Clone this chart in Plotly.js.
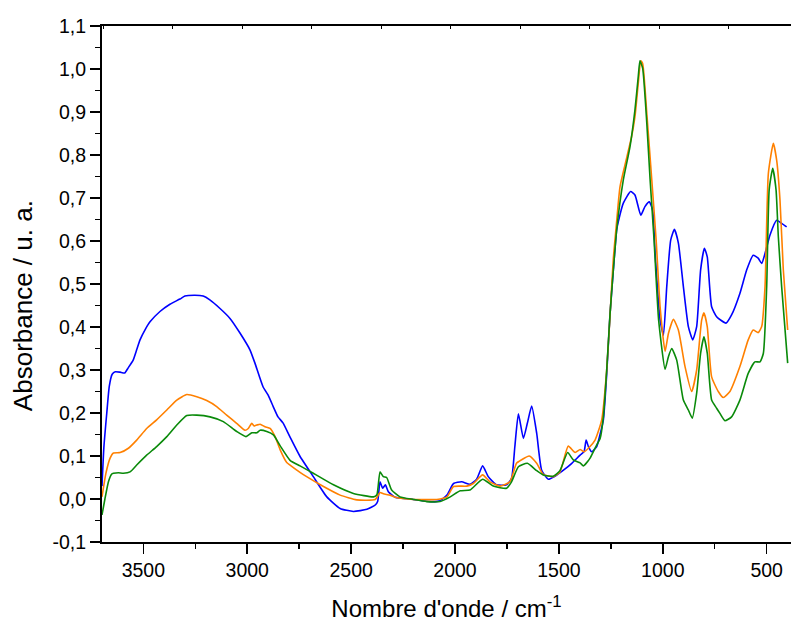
<!DOCTYPE html>
<html>
<head>
<meta charset="utf-8">
<script src="https://cdn.plot.ly/plotly-3.0.1.min.js"></script>
<style>html,body{margin:0;padding:0;background:#fff;overflow:hidden;}</style>
</head>
<body>
<div id="chart" style="width:791px;height:623px;"></div>
<script>
// Blue series
const blueX = [3699,3690,3676,3664,3650,3635,3612,3590,3573,3549,3530,3516,3490,3468,3420,3372,3324,3300,3252,3212,3180,3131,3083,3035,2987,2963,2924,2900,2875,2852,2828,2795,2747,2682,2617,2553,2489,2424,2384,2372,2361,2348,2335,2321,2288,2200,2120,2072,2039,2007,1968,1928,1896,1867,1840,1800,1752,1728,1712,1695,1671,1652,1631,1607,1583,1551,1519,1478,1438,1398,1379,1369,1358,1342,1318,1302,1286,1270,1254,1238,1222,1214,1190,1155,1134,1106,1086,1065,1049,1037,1013,997,981,962,944,925,901,877,856,837,818,800,786,765,741,696,669,629,596,565,541,524,508,484,452,428,404];
const blueY = [0.03,0.12,0.20,0.262,0.29,0.296,0.295,0.293,0.305,0.323,0.35,0.37,0.395,0.412,0.436,0.453,0.465,0.472,0.474,0.472,0.463,0.443,0.42,0.386,0.347,0.316,0.261,0.242,0.215,0.191,0.177,0.145,0.10,0.052,0.005,-0.022,-0.029,-0.024,-0.014,-0.005,0.040,0.025,0.033,0.017,0.004,-0.001,-0.006,-0.004,0.009,0.036,0.040,0.034,0.046,0.077,0.052,0.033,0.033,0.048,0.122,0.198,0.141,0.176,0.216,0.153,0.067,0.046,0.053,0.067,0.083,0.102,0.11,0.137,0.122,0.11,0.122,0.15,0.184,0.29,0.43,0.533,0.626,0.645,0.688,0.715,0.707,0.66,0.68,0.691,0.672,0.571,0.416,0.381,0.494,0.602,0.627,0.595,0.494,0.401,0.37,0.401,0.533,0.583,0.563,0.447,0.424,0.409,0.428,0.478,0.533,0.567,0.56,0.548,0.571,0.614,0.648,0.641,0.633];

// Orange series
const orangeX = [3699,3680,3660,3644,3612,3572,3532,3484,3436,3387,3339,3291,3243,3195,3147,3099,3051,3011,2995,2978,2967,2954,2938,2914,2890,2866,2842,2810,2794,2746,2714,2633,2553,2473,2384,2361,2345,2313,2288,2200,2088,2039,2007,1943,1912,1867,1832,1784,1736,1704,1680,1643,1607,1575,1527,1495,1455,1422,1398,1379,1358,1326,1294,1270,1250,1238,1225,1206,1182,1150,1134,1118,1106,1097,1077,1053,1032,1013,989,973,949,925,893,861,837,813,802,786,765,733,709,677,629,589,565,541,524,508,492,468,452,436,420,399];
const orangeY = [0.005,0.06,0.095,0.107,0.108,0.118,0.137,0.164,0.184,0.207,0.23,0.243,0.238,0.229,0.215,0.195,0.176,0.16,0.164,0.176,0.17,0.172,0.174,0.168,0.164,0.145,0.115,0.085,0.079,0.062,0.052,0.029,0.009,-0.002,-0.001,0.015,0.012,0.009,0.004,-0.001,-0.001,0.005,0.029,0.03,0.036,0.056,0.04,0.03,0.04,0.083,0.091,0.1,0.083,0.057,0.052,0.063,0.123,0.108,0.115,0.11,0.118,0.137,0.184,0.3,0.46,0.56,0.63,0.726,0.777,0.843,0.889,0.967,1.019,1.013,0.897,0.742,0.602,0.447,0.343,0.385,0.418,0.393,0.308,0.25,0.3,0.416,0.433,0.401,0.284,0.25,0.236,0.25,0.308,0.37,0.393,0.387,0.401,0.494,0.757,0.827,0.788,0.695,0.533,0.393];

// Green series
const greenX = [3699,3685,3668,3652,3644,3620,3596,3564,3532,3484,3436,3387,3339,3291,3243,3179,3115,3051,3006,2978,2954,2938,2906,2874,2842,2794,2746,2682,2585,2489,2392,2376,2361,2345,2329,2305,2265,2200,2136,2072,2023,1975,1928,1867,1816,1752,1728,1695,1652,1607,1575,1527,1495,1458,1431,1398,1382,1350,1318,1302,1286,1270,1254,1238,1222,1190,1158,1134,1118,1110,1097,1077,1061,1042,1020,989,973,957,933,901,877,858,837,818,802,786,765,741,725,701,669,629,589,557,532,516,500,488,471,455,444,428,399];
const greenY = [-0.037,0.0,0.04,0.058,0.06,0.061,0.06,0.063,0.079,0.102,0.122,0.145,0.172,0.194,0.195,0.191,0.18,0.157,0.145,0.154,0.154,0.16,0.157,0.149,0.124,0.09,0.077,0.06,0.033,0.013,0.005,0.01,0.063,0.052,0.05,0.021,0.005,-0.001,-0.006,-0.006,0.005,0.019,0.021,0.046,0.03,0.025,0.04,0.075,0.083,0.066,0.056,0.053,0.066,0.108,0.091,0.084,0.077,0.095,0.126,0.14,0.191,0.3,0.43,0.533,0.626,0.742,0.819,0.905,0.983,1.019,1.002,0.874,0.742,0.602,0.416,0.302,0.331,0.35,0.323,0.23,0.207,0.188,0.246,0.339,0.377,0.339,0.23,0.211,0.199,0.182,0.191,0.23,0.292,0.319,0.319,0.339,0.494,0.719,0.769,0.719,0.61,0.494,0.316];

// Axis tick labels and titles
const yTickVals = [-0.1,0.0,0.1,0.2,0.3,0.4,0.5,0.6,0.7,0.8,0.9,1.0,1.1];
const yTickText = ["-0,1","0,0","0,1","0,2","0,3","0,4","0,5","0,6","0,7","0,8","0,9","1,0","1,1"];
const xTickVals = [3500,3000,2500,2000,1500,1000,500];
const xTickText = ["3500","3000","2500","2000","1500","1000","500"];
const xTitle = "Nombre d'onde / cm<sup>-1</sup>";
const yTitle = "Absorbance / u. a.";

const FONT = 'Liberation Sans, Arial, sans-serif';
function line(x, y, color) {
  return {x: x, y: y, type: 'scatter', mode: 'lines', line: {color: color, width: 1.6, shape: 'spline', smoothing: 0.5},
          showlegend: false, hoverinfo: 'skip'};
}
const traces = [
  line(blueX, blueY, '#0000ff'),
  line(orangeX, orangeY, '#ff8000'),
  line(greenX, greenY, '#0a8a0a'),
  {x: [null], y: [null], xaxis: 'x2', yaxis: 'y', type: 'scatter', mode: 'lines', showlegend: false, hoverinfo: 'skip'}
];

const layout = {
  width: 791, height: 623,
  margin: {l: 102, r: 0, t: 26, b: 81},
  paper_bgcolor: '#fff', plot_bgcolor: '#fff',
  font: {family: FONT, color: '#000'},
  showlegend: false,
  xaxis: {
    range: [3699, 383], tickmode: 'array', tickvals: xTickVals, ticktext: xTickText,
    ticks: 'outside', ticklen: 10, tickwidth: 1.5, tickcolor: '#000',
    showline: true, linewidth: 2, linecolor: '#000', mirror: false,
    showgrid: false, zeroline: false,
    minor: {tickmode: 'linear', tick0: 0, dtick: 250, ticks: 'outside', ticklen: 5, tickwidth: 1.5, tickcolor: '#000', showgrid: false},
    tickfont: {size: 19.5, family: FONT},
    title: {text: xTitle, font: {size: 24, family: FONT}, standoff: 20},
    automargin: false
  },
  xaxis2: {
    overlaying: 'x', side: 'top', anchor: 'y', range: [0, 9.914],
    tickmode: 'linear', tick0: 1.02, dtick: 1, ticks: 'inside', ticklen: 3, tickwidth: 1, tickcolor: '#000',
    showticklabels: false, showline: true, linewidth: 2, linecolor: '#000',
    showgrid: false, zeroline: false
  },
  yaxis: {
    range: [-0.1, 1.1], tickmode: 'array', tickvals: yTickVals, ticktext: yTickText,
    ticks: 'outside', ticklen: 10, tickwidth: 1.5, tickcolor: '#000',
    showline: true, linewidth: 2, linecolor: '#000', mirror: false,
    showgrid: false, zeroline: false,
    minor: {tickmode: 'linear', tick0: 0, dtick: 0.05, ticks: 'outside', ticklen: 5, tickwidth: 1.5, tickcolor: '#000', showgrid: false},
    tickfont: {size: 19.5, family: FONT},
    automargin: false
  },
  annotations: [{
    text: yTitle, xref: 'paper', yref: 'paper', x: -0.1147, y: 0.459,
    xanchor: 'center', yanchor: 'middle', textangle: -90, showarrow: false,
    font: {size: 26, family: FONT, color: '#000'}
  }]
};
Plotly.newPlot('chart', traces, layout, {staticPlot: true, displayModeBar: false});
</script>
</body>
</html>
